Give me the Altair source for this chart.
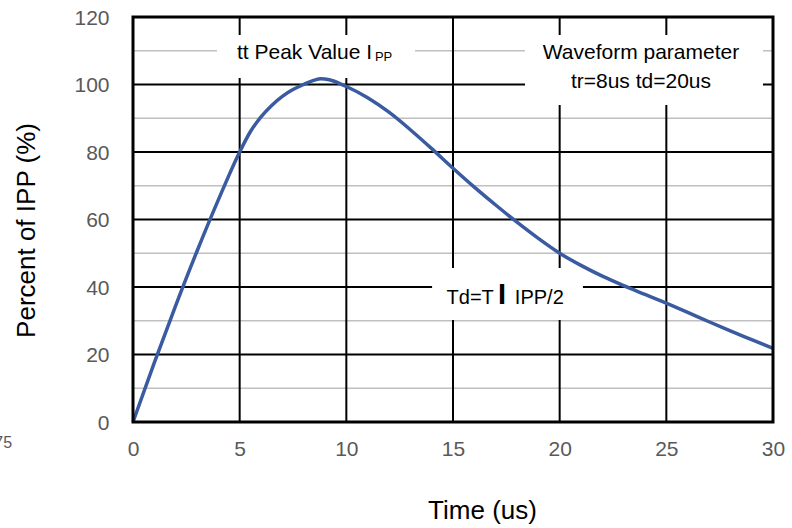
import altair as alt
import pandas as pd

# ---- data ----
time_us = [0, 1, 2, 3, 4, 5, 5.5, 6, 6.5, 7, 7.5, 8, 8.5, 8.8, 9.2, 10, 11, 12, 13, 14, 15,
           16, 17, 18, 19, 20, 21, 22, 23, 24, 25, 26, 27, 28, 29, 30]
percent_ipp = [0, 17.6, 34.5, 50.6, 65.8, 80, 86.0, 90.4, 93.8, 96.5, 98.5, 100.0, 101.3, 101.7, 101.4,
               99.4, 96.1, 91.8, 86.6, 81.0, 75.2, 69.6, 64.3, 59.2, 54.4, 50.0, 46.4, 43.2, 40.4,
               37.8, 35.2, 32.5, 29.7, 27.0, 24.4, 21.8]
x_ticks = [0, 5, 10, 15, 20, 25, 30]
y_ticks = [0, 20, 40, 60, 80, 100, 120]
y_minor = [10, 30, 50, 70, 90, 110]

FONT = "Liberation Sans"
curve_df = pd.DataFrame({"t": time_us, "v": percent_ipp})
one = pd.DataFrame({"k": [0]})

xs = alt.Scale(domain=[0, 30], nice=False)
ys = alt.Scale(domain=[0, 120], nice=False)

X_AXIS = alt.Axis(
    values=x_ticks, grid=False, domain=False, ticks=False, tickSize=0, labelFlush=False,
    labelFontSize=21, labelColor="#595959", labelPadding=33, labelBaseline="alphabetic",
    labelFont=FONT, title="Time (us)", titleFont=FONT, titleFontSize=26, titleFontWeight="normal",
    titleColor="black", titleX=349, titleY=96, titleBaseline="alphabetic", titleAlign="center")
Y_AXIS = alt.Axis(
    values=y_ticks, grid=False, domain=False, ticks=False, tickSize=0, labelFlush=False,
    labelFontSize=21, labelColor="#595959", labelPadding=24, labelBaseline="alphabetic",
    labelOffset=7, labelFont=FONT, title="Percent of IPP (%)", titleFont=FONT, titleFontSize=26,
    titleFontWeight="normal", titleColor="black", titleX=-99, titleY=213,
    titleBaseline="alphabetic", titleAlign="center", titleAngle=270)

minor = alt.Chart(pd.DataFrame({"v": y_minor})).mark_rule(color="#c0c0c0", strokeWidth=1.5).encode(
    y=alt.Y("v:Q", scale=ys, axis=Y_AXIS))
major_h = alt.Chart(pd.DataFrame({"v": y_ticks})).mark_rule(color="black", strokeWidth=2).encode(
    y=alt.Y("v:Q", scale=ys, axis=Y_AXIS))
major_v = alt.Chart(pd.DataFrame({"t": x_ticks})).mark_rule(color="black", strokeWidth=2).encode(
    x=alt.X("t:Q", scale=xs, axis=X_AXIS))


def box(x1, x2, y1, y2):
    return alt.Chart(one).mark_rect(fill="white").encode(
        x=alt.datum(x1, scale=xs, axis=X_AXIS), x2=alt.datum(x2),
        y=alt.datum(y1, scale=ys, axis=Y_AXIS), y2=alt.datum(y2))


def label(txt, x, y, size, align="left", color="black", weight="normal"):
    return alt.Chart(one).mark_text(text=txt, align=align, baseline="alphabetic", fontSize=size,
                                    font=FONT, color=color, fontWeight=weight).encode(
        x=alt.datum(x, scale=xs, axis=X_AXIS), y=alt.datum(y, scale=ys, axis=Y_AXIS))


boxes = [
    box(3.94, 13.22, 114.7, 101.9),
    box(18.375, 29.53, 114.7, 93.9),
    box(14.02, 21.09, 45.6, 30.2),
]
texts = [
    label("tt Peak Value I", 4.875, 107.5, 21),
    label("PP", 11.34, 107.1, 13),
    label("Waveform parameter", 23.81, 107.5, 21, align="center"),
    label("tr=8us td=20us", 23.81, 98.9, 21, align="center"),
    label("Td=T", 14.7, 34.96, 20),
    label("I", 17.11, 34.96, 29, weight="bold"),
    label("IPP/2", 17.9, 34.96, 20),
    label("75", -5.67, -7.8, 16, align="right", color="#595959"),
]

curve = alt.Chart(curve_df).mark_line(color="#3a5ba0", strokeWidth=3.5, interpolate="monotone").encode(
    x=alt.X("t:Q", scale=xs, axis=X_AXIS),
    y=alt.Y("v:Q", scale=ys, axis=Y_AXIS),
)

frame = alt.Chart(one).mark_rect(fillOpacity=0, stroke="black", strokeWidth=3).encode(
    x=alt.datum(0, scale=xs, axis=X_AXIS), x2=alt.datum(30),
    y=alt.datum(0, scale=ys, axis=Y_AXIS), y2=alt.datum(120))

chart = alt.layer(minor, major_h, major_v, *boxes, *texts, curve, frame).properties(
    width=640, height=405,
    padding={"left": 133, "top": 17, "right": 19, "bottom": 106},
    autosize=alt.AutoSizeParams(type="none"),
    background="white",
).configure_view(stroke=None)

chart.save("out.html", embed_options={"renderer": "svg", "actions": False})
